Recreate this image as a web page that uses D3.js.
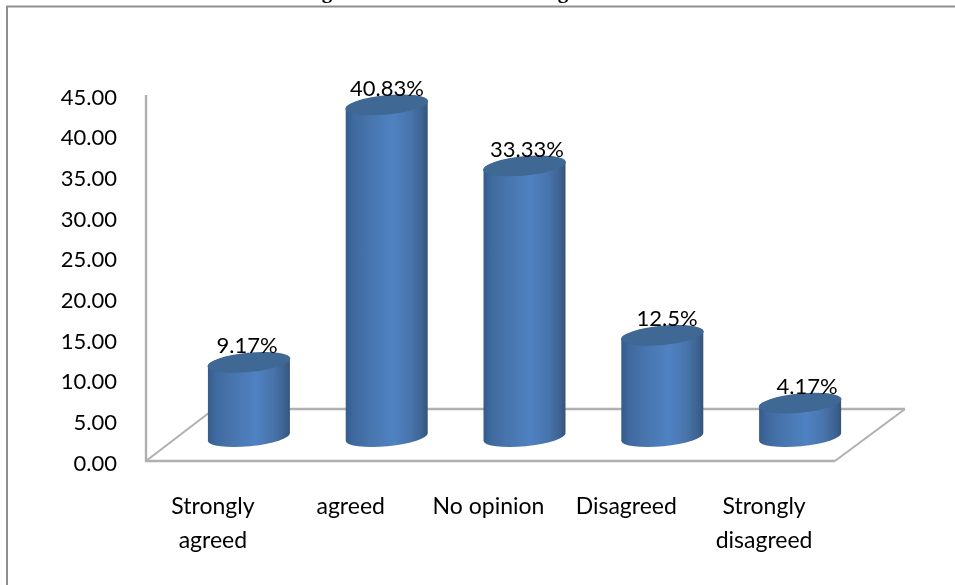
<!DOCTYPE html>
<html><head><meta charset="utf-8">
<script src="https://cdn.jsdelivr.net/npm/d3@7/dist/d3.min.js"></script>
<style>html,body{margin:0;padding:0;background:#fff;overflow:hidden}svg{display:block}
text{font-family:Lato,"Open Sans",sans-serif;fill:#000}</style></head><body>
<script>
const categories = [["Strongly","agreed"],["agreed"],["No opinion"],["Disagreed"],["Strongly","disagreed"]];
const values = [9.17,40.83,33.33,12.5,4.17];
const valueLabels = ["9.17%","40.83%","33.33%","12.5%","4.17%"];
const yTicks = [0,5,10,15,20,25,30,35,40,45];

const W=955,H=585;
const svg=d3.select("body").append("svg").attr("width",W).attr("height",H);
const defs=svg.append("defs");
const g=defs.append("linearGradient").attr("id","cyl");
[[0,"#355b8c"],[0.1,"#3f6a9f"],[0.3,"#4875ae"],[0.58,"#5082c2"],[0.8,"#4773ab"],[0.93,"#3d6392"],[1,"#345578"]]
 .forEach(([o,c])=>g.append("stop").attr("offset",o).attr("stop-color",c));
defs.append("filter").attr("id","soft").attr("x","-5%").attr("y","-5%").attr("width","110%").attr("height","110%")
  .append("feGaussianBlur").attr("stdDeviation",0.55);
const root=svg.append("g").attr("filter","url(#soft)");

const y=d3.scaleLinear().domain([0,45]).range([461,95]);
const x=d3.scaleBand().domain(d3.range(categories.length)).range([146,835]);
const xLabel=d3.scalePoint().domain(d3.range(categories.length)).range([247,807]);
const depthX=68, depthY=-52, barShiftX=34, barShiftY=-24;
const rx=41, ry=9.2, tilt=-5.5;
const dy=4;

// chart frame (right and bottom fall outside the crop)
root.append("path").attr("d","M7,590V6.5H960").attr("fill","none").attr("stroke","#8f8f8f").attr("stroke-width",2);

// clipped title: only the descenders of its two g's show
[327,563].forEach(px=>root.append("text").attr("x",px).attr("y",-2).attr("text-anchor","middle")
  .style("font-family","'Liberation Serif'").style("font-weight","bold").style("font-size","21px").text("g"));

// floor and wall
const y0=y(0), L=x.range()[0], R=x.range()[1];
const gridLine=(pts,w)=>root.append("path").attr("fill","none").attr("stroke","#b0b0b0").attr("stroke-width",w).attr("d",d3.line()(pts));
gridLine([[L+depthX,y0+depthY],[R+depthX+2,y0+depthY]],2.4);
gridLine([[L,y0],[L+depthX,y0+depthY]],2);
gridLine([[R,y0],[R+depthX+2,y0+depthY]],2);
gridLine([[L,y(45)],[L,y0],[R,y0]],2.4);

// axis labels
const ax=root.append("g").attr("transform",`translate(${L},0)`)
  .call(d3.axisLeft(y).tickValues(yTicks).tickFormat(d3.format(".2f")).tickSize(0).tickPadding(29));
ax.select(".domain").remove();
ax.selectAll("text").style("font-size","22px").attr("dy","0.42em").style("font-family","Lato").style("fill","#000");

// cylinders
const bars=root.selectAll("g.bar").data(values).join("g").attr("class","bar");
bars.append("path").attr("fill","url(#cyl)").attr("d",(v,i)=>{
  const c=x(i)+x.bandwidth()/2+barShiftX, t=y(v)+barShiftY, b=y0+barShiftY;
  return `M${c-rx},${t+dy}L${c-rx},${b+dy}A${rx},${ry} ${tilt} 0 0 ${c+rx},${b-dy}L${c+rx},${t-dy}A${rx},${ry} ${tilt} 0 0 ${c-rx},${t+dy}Z`;
});
bars.append("ellipse").attr("fill","#3f6795")
  .attr("rx",rx+0.6).attr("ry",ry+0.4)
  .attr("transform",(v,i)=>`translate(${x(i)+x.bandwidth()/2+barShiftX},${y(v)+barShiftY}) rotate(${tilt})`);

// value labels
root.selectAll("text.val").data(values).join("text").attr("class","val")
  .attr("x",(v,i)=>xLabel(i))
  .attr("y",v=>y(v)+barShiftY-9)
  .attr("text-anchor","middle").style("font-size","22px").text((v,i)=>valueLabels[i]);

// category labels
root.selectAll("text.cat").data(categories).join("text").attr("class","cat")
  .attr("text-anchor","middle").style("font-size","23px")
  .each(function(lines,i){
    d3.select(this).selectAll("tspan").data(lines).join("tspan")
      .attr("x",x(i)+x.bandwidth()/2-2).attr("y",(l,j)=>514+j*33.5).text(l=>l);
  });
</script></body></html>
